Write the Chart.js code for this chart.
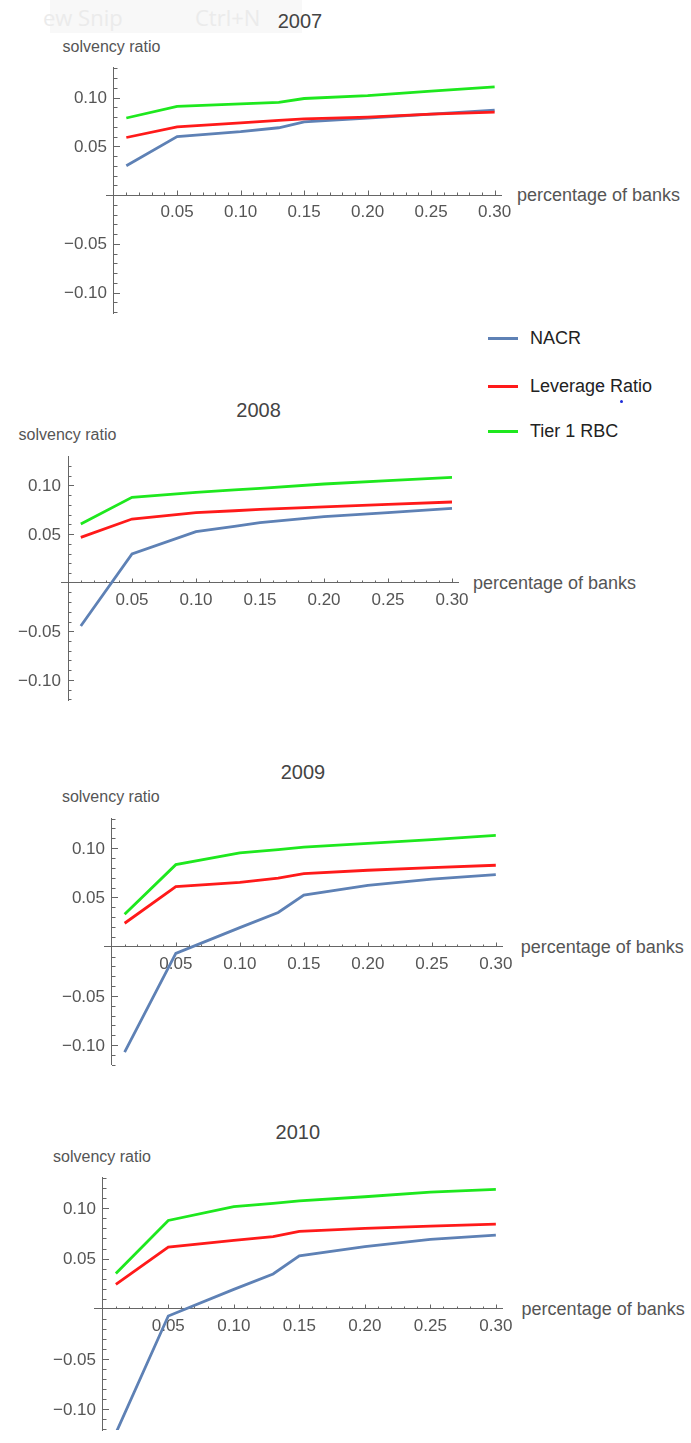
<!DOCTYPE html>
<html><head><meta charset="utf-8">
<script src="https://cdn.jsdelivr.net/npm/chart.js@4/dist/chart.umd.min.js"></script>
<style>
html,body{margin:0;padding:0;background:#fff;width:691px;height:1443px;overflow:hidden;}
body{position:relative;font-family:"Liberation Sans",Arial,sans-serif;}
canvas{position:absolute;left:0;top:0;}
.t{position:absolute;white-space:nowrap;color:#555;line-height:1;}
.title{font-size:20px;color:#444;transform:translate(-50%,-50%);}
.ylab{font-size:16px;transform:translate(-50%,-50%);}
.xlab{font-size:18px;transform:translateY(-50%);}
.leg{position:absolute;left:488px;width:30px;height:3px;}
.legt{position:absolute;left:530px;font-size:18px;color:#222;transform:translateY(-50%);white-space:nowrap;line-height:1;}
#snip{position:absolute;left:50px;top:0;width:252px;height:33px;background:#f8f8f8;}
.snipt{position:absolute;font-size:22px;color:#ebebeb;top:6px;white-space:nowrap;line-height:1;font-family:"Open Sans","Liberation Sans",sans-serif;}
.dot{position:absolute;background:#1c2bd8;border-radius:50%;}
</style></head><body>
<div id="snip"></div>
<div class="snipt" style="left:43px">ew Snip</div>
<div class="snipt" style="left:195px">Ctrl+N</div>
<div id="labels"></div>
<div class="leg" style="top:337px;background:#5e81b5"></div>
<div class="legt" style="top:338px">NACR</div>
<div class="leg" style="top:385px;background:#ff1a1a"></div>
<div class="legt" style="top:386px">Leverage Ratio</div>
<div class="leg" style="top:430px;background:#1ee81e"></div>
<div class="legt" style="top:431px">Tier 1 RBC</div>
<div class="dot" style="left:620px;top:400px;width:3px;height:3px"></div>
<div class="dot" style="left:598px;top:385px;width:2px;height:2px"></div>
<script>
// ---- data ----
const percentages = [0.01, 0.05, 0.10, 0.13, 0.15, 0.20, 0.25, 0.30];
const seriesNames = ['NACR', 'Leverage Ratio', 'Tier 1 RBC'];
const years = ['2007', '2008', '2009', '2010'];

const nacr2007     = [0.030, 0.060, 0.065, 0.069, 0.075, 0.079, 0.083, 0.087];
const leverage2007 = [0.059, 0.070, 0.074, 0.0765, 0.078, 0.080, 0.083, 0.085];
const tier1_2007   = [0.079, 0.091, 0.0935, 0.095, 0.099, 0.102, 0.1065, 0.111];

const nacr2008     = [-0.0446, 0.0295, 0.0525, 0.058, 0.0617, 0.068, 0.072, 0.0765];
const leverage2008 = [0.0466, 0.0655, 0.072, 0.074, 0.0754, 0.078, 0.0806, 0.083];
const tier1_2008   = [0.0604, 0.0878, 0.093, 0.0955, 0.097, 0.1015, 0.105, 0.1084];

const nacr2009     = [-0.107, -0.0068, 0.0194, 0.0347, 0.0524, 0.0622, 0.0687, 0.0731];
const leverage2009 = [0.0238, 0.0609, 0.0653, 0.0697, 0.0741, 0.0776, 0.0803, 0.0827];
const tier1_2009   = [0.033, 0.0833, 0.0952, 0.0985, 0.101, 0.1048, 0.1088, 0.113];

const nacr2010     = [-0.124, -0.0073, 0.0193, 0.0346, 0.0528, 0.0618, 0.0691, 0.0734];
const leverage2010 = [0.0243, 0.0615, 0.0681, 0.0718, 0.0771, 0.080, 0.0824, 0.0844];
const tier1_2010   = [0.0352, 0.088, 0.1017, 0.105, 0.1076, 0.1116, 0.1163, 0.119];

const xTickValues = [0.05, 0.10, 0.15, 0.20, 0.25, 0.30];
const xTickLabels = ['0.05', '0.10', '0.15', '0.20', '0.25', '0.30'];
const yTickValues = [-0.10, -0.05, 0.05, 0.10];
const yTickLabels = ['\u22120.10', '\u22120.05', '0.05', '0.10'];

const xAxisTitle = 'percentage of banks';
const yAxisTitle = 'solvency ratio';

// ---- layout (positions only) ----
const W = 691, H = 1443;
const layoutCfg = [
  {area:{left:106.0, top:67.3, right:501.0, bottom:313.0}, x:[-0.006,0.305], y:[-0.121,0.131], title:[300,21], ylab:[111.5,47], xlab:[517,195]},
  {area:{left:61.6, top:456.6, right:458.4, bottom:700.0}, x:[-0.005,0.305], y:[-0.1207,0.1297], title:[258.6,410], ylab:[67.5,435], xlab:[473,582.7]},
  {area:{left:104.4, top:818.35, right:502.2, bottom:1064.9}, x:[-0.0058,0.305], y:[-0.120,0.1303], title:[303,771.7], ylab:[110.8,797], xlab:[520.7,946.7]},
  {area:{left:94.9, top:1177.3, right:502.4, bottom:1430.1}, x:[-0.006,0.305], y:[-0.121,0.131], title:[297.8,1131.7], ylab:[102,1156.7], xlab:[521.6,1308.7]}
];
const yearSeries = [
  [nacr2007, leverage2007, tier1_2007],
  [nacr2008, leverage2008, tier1_2008],
  [nacr2009, leverage2009, tier1_2009],
  [nacr2010, leverage2010, tier1_2010]
];
const colors = ['#5e81b5', '#ff1a1a', '#1ee81e'];
const orders = [3, 2, 1];
const FONT = '"Liberation Sans", Arial, sans-serif';

// minor/major tick marks drawn inward (Mathematica style) + y tick labels left of the axis
const axisTicks = {
  id: 'axisTicks',
  afterDraw(chart) {
    const {ctx} = chart; const x = chart.scales.x, y = chart.scales.y;
    const px0 = Math.round(x.getPixelForValue(0)), py0 = Math.round(y.getPixelForValue(0));
    ctx.save(); ctx.strokeStyle = '#666'; ctx.lineWidth = 1; ctx.beginPath();
    for (let i = 1; i <= Math.floor(x.max * 100 + 1e-6); i++) {
      const p = Math.round(x.getPixelForValue(i / 100)) + 0.5;
      const len = (i % 5 === 0) ? 4.5 : 2.5;
      ctx.moveTo(p, py0); ctx.lineTo(p, py0 - len);
    }
    for (let i = Math.ceil(y.min * 100 - 1e-6); i <= Math.floor(y.max * 100 + 1e-6); i++) {
      if (i === 0) continue;
      const p = Math.round(y.getPixelForValue(i / 100)) + 0.5;
      const len = (i % 5 === 0) ? 6 : 3.5;
      ctx.moveTo(px0, p); ctx.lineTo(px0 + len, p);
    }
    ctx.stroke();
    ctx.fillStyle = '#555'; ctx.font = '17px ' + FONT; ctx.textAlign = 'right'; ctx.textBaseline = 'middle';
    yTickValues.forEach((v, i) => ctx.fillText(yTickLabels[i], px0 - 7, y.getPixelForValue(v) + 1));
    ctx.restore();
  }
};

const labelsDiv = document.getElementById('labels');
function addText(cls, txt, x, y) {
  const d = document.createElement('div'); d.className = 't ' + cls; d.textContent = txt;
  d.style.left = x + 'px'; d.style.top = y + 'px'; labelsDiv.appendChild(d);
}

const tickFont = {family: FONT, size: 17};

layoutCfg.forEach((cfg, k) => {
  const cv = document.createElement('canvas');
  cv.width = W; cv.height = H; cv.style.width = W + 'px'; cv.style.height = H + 'px';
  document.body.appendChild(cv);
  addText('title', years[k], cfg.title[0], cfg.title[1]);
  addText('ylab', yAxisTitle, cfg.ylab[0], cfg.ylab[1]);
  addText('xlab', xAxisTitle, cfg.xlab[0], cfg.xlab[1]);
  const a = cfg.area;
  new Chart(cv, {
    type: 'line',
    data: {
      datasets: yearSeries[k].map((vals, s) => ({
        label: seriesNames[s],
        data: percentages.map((p, i) => ({x: p, y: vals[i]})),
        borderColor: colors[s], backgroundColor: colors[s], borderWidth: 2.8,
        pointRadius: 0, tension: 0, fill: false, order: orders[s]
      }))
    },
    options: {
      responsive: false, animation: false, devicePixelRatio: 1,
      layout: {padding: {left: a.left, top: a.top, right: W - a.right, bottom: H - a.bottom}},
      plugins: {legend: {display: false}, tooltip: {enabled: false}, title: {display: false}},
      scales: {
        x: {
          type: 'linear', position: {y: 0}, min: cfg.x[0], max: cfg.x[1],
          afterBuildTicks: sc => { sc.ticks = xTickValues.map(v => ({value: v})); },
          ticks: {callback: (v, i) => xTickLabels[i], padding: 7, font: tickFont, color: '#555', autoSkip: false, maxRotation: 0},
          grid: {drawOnChartArea: false, drawTicks: false},
          border: {color: '#666', width: 1}
        },
        y: {
          type: 'linear', position: {x: 0}, min: cfg.y[0], max: cfg.y[1],
          afterBuildTicks: sc => { sc.ticks = yTickValues.map(v => ({value: v})); },
          ticks: {display: false},
          grid: {drawOnChartArea: false, drawTicks: false},
          border: {color: '#666', width: 1}
        }
      }
    },
    plugins: [axisTicks]
  });
});
</script>
</body></html>
